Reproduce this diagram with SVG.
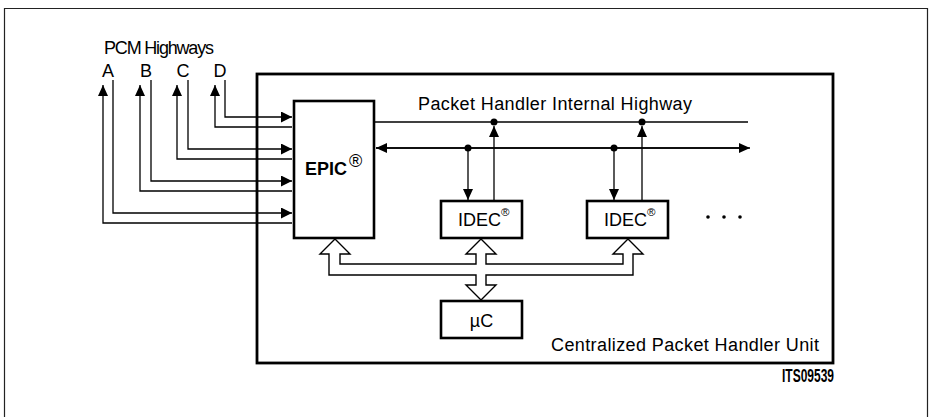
<svg xmlns="http://www.w3.org/2000/svg" width="931" height="417" viewBox="0 0 931 417">
<defs>
<style>
.t{font-family:"Liberation Sans",Arial,sans-serif;fill:#000;font-size:18px}
.b{font-weight:bold}
.ln{stroke:#000;stroke-width:1.3;fill:none}
.box{fill:#fff;stroke:#000;stroke-width:2.6}
.bus{fill:#fff;stroke:#000;stroke-width:1.4;stroke-linejoin:miter}
.dot{fill:#000}
</style>
<marker id="ah" viewBox="0 0 11 11" refX="11" refY="5.5" markerWidth="11" markerHeight="11" markerUnits="userSpaceOnUse" orient="auto"><path d="M0,0 L11,5.5 L0,11 Z" fill="#000"/></marker>
<marker id="ahs" viewBox="0 0 11 10" refX="11" refY="5" markerWidth="11" markerHeight="10" markerUnits="userSpaceOnUse" orient="auto"><path d="M0,0 L11,5 L0,10 Z" fill="#000"/></marker>
</defs>
<rect width="931" height="417" fill="#fff"/>
<path d="M4.5,420 V8.5 H927.5 V420" fill="none" stroke="#222" stroke-width="1.2"/>

<g id="main-box">
<rect x="257" y="74" width="576" height="289" fill="none" stroke="#000" stroke-width="2.8"/>
<text class="t" x="551" y="351" textLength="268" lengthAdjust="spacing">Centralized Packet Handler Unit</text>
</g>

<g id="labels">
<text class="t" x="104" y="54" font-size="17" textLength="110" lengthAdjust="spacing">PCM Highways</text>
<text class="t" x="108" y="77" font-size="17" text-anchor="middle">A</text>
<text class="t" x="146" y="77" font-size="17" text-anchor="middle">B</text>
<text class="t" x="183" y="77" font-size="17" text-anchor="middle">C</text>
<text class="t" x="220" y="77" font-size="17" text-anchor="middle">D</text>
<text class="t" x="418" y="110" textLength="274" lengthAdjust="spacing">Packet Handler Internal Highway</text>
<text class="t b" x="782" y="382" font-size="15" textLength="52" lengthAdjust="spacingAndGlyphs">ITS09539</text>
</g>

<g id="connectors">
<path class="ln" d="M225,80 V117 H292" marker-end="url(#ah)"/>
<path class="ln" d="M292,127 H215 V85" marker-end="url(#ahs)"/>
<path class="ln" d="M188,80 V149 H292" marker-end="url(#ah)"/>
<path class="ln" d="M292,159 H177 V85" marker-end="url(#ahs)"/>
<path class="ln" d="M151,80 V181 H292" marker-end="url(#ah)"/>
<path class="ln" d="M292,191 H140 V85" marker-end="url(#ahs)"/>
<path class="ln" d="M113,80 V213 H292" marker-end="url(#ah)"/>
<path class="ln" d="M292,223 H103 V85" marker-end="url(#ahs)"/>
<path class="ln" d="M375,122 H748"/>
<path class="ln" d="M740,148 H376" marker-end="url(#ahs)"/>
<path class="ln" d="M376,148 H750" marker-end="url(#ahs)"/>
<path class="ln" d="M468,148 V200" marker-end="url(#ahs)"/>
<path class="ln" d="M494,200 V126" marker-end="url(#ahs)"/>
<path class="ln" d="M614,148 V200" marker-end="url(#ahs)"/>
<path class="ln" d="M642,200 V126" marker-end="url(#ahs)"/>
<circle class="dot" cx="468" cy="148" r="3.5"/>
<circle class="dot" cx="494" cy="122" r="3.5"/>
<circle class="dot" cx="614" cy="148" r="3.5"/>
<circle class="dot" cx="642" cy="122" r="3.5"/>
<path class="bus" d="M335,239 L350,254 L340,254 L340,264 L476,264 L476,254 L466,254 L481,239 L496,254 L486,254 L486,264 L623,264 L623,254 L613,254 L628,239 L643,254 L633,254 L633,275 L486,275 L486,285 L496,285 L481,300 L466,285 L476,285 L476,275 L329,275 L329,254 L320,254 Z"/>
</g>

<g id="epic">
<rect class="box" x="294" y="101" width="80" height="137"/>
<text class="t b" x="305" y="175" font-size="19" textLength="42" lengthAdjust="spacingAndGlyphs">EPIC</text>
<text class="t" x="349" y="167" font-size="14">®</text>
</g>

<g id="idec1">
<rect class="box" x="441" y="201" width="81" height="37" stroke-width="2.2"/>
<text class="t" x="458" y="226" font-size="15.5">IDEC<tspan font-size="11.5" dy="-10">®</tspan></text>
</g>

<g id="idec2">
<rect class="box" x="587" y="201" width="81" height="37" stroke-width="2.2"/>
<text class="t" x="604" y="226" font-size="15.5">IDEC<tspan font-size="11.5" dy="-10">®</tspan></text>
</g>

<g id="ellipsis">
<circle class="dot" cx="708" cy="217" r="1.8"/>
<circle class="dot" cx="724" cy="217" r="1.8"/>
<circle class="dot" cx="740" cy="217" r="1.8"/>
</g>

<g id="uc">
<rect class="box" x="441" y="301" width="81" height="37" stroke-width="2.2"/>
<text class="t" x="481.5" y="327" font-size="17" text-anchor="middle">µC</text>
</g>
</svg>
